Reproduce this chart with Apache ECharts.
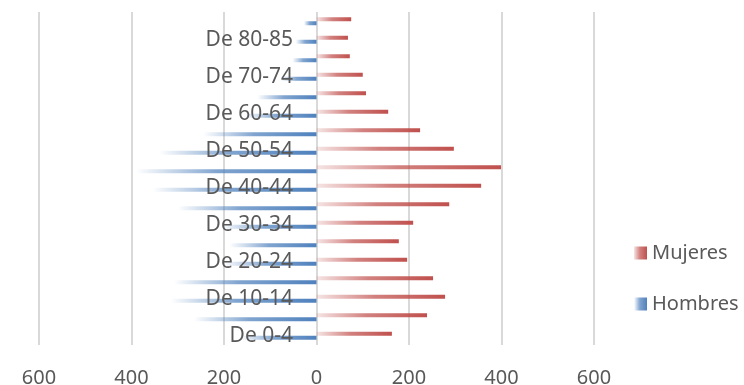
<!DOCTYPE html>
<html>
<head>
<meta charset="utf-8">
<script src="https://cdn.jsdelivr.net/npm/echarts@6/dist/echarts.min.js"></script>
<style>html,body{margin:0;padding:0;background:#fff;}#chart{width:744px;height:385px;}</style>
</head>
<body>
<div id="chart"></div>
<script>
const categories = ['De 0-4','De 5-9','De 10-14','De 15-19','De 20-24','De 25-29','De 30-34','De 35-39','De 40-44','De 45-49','De 50-54','De 55-59','De 60-64','De 65-69','De 70-74','De 75-79','De 80-85','Más de 85'];
const mujeres = [163, 239, 278, 252, 196, 178, 209, 287, 356, 399, 297, 224, 155, 107, 100, 72, 68, 75];
const hombres = [165, 265, 315, 308, 200, 188, 205, 300, 355, 390, 340, 245, 155, 128, 78, 52, 45, 27];
const xTicks = { min: -600, max: 600, interval: 200 };

const FONT = '"Noto Sans", "Open Sans", sans-serif';
const chart = echarts.init(document.getElementById('chart'), null, { renderer: 'canvas' });
chart.setOption({
  animation: false,
  backgroundColor: '#ffffff',
  textStyle: { fontFamily: FONT },
  grid: { left: 39, top: 12, width: 555, height: 333, containLabel: false, outerBoundsMode: 'none' },
  legend: {
    orient: 'vertical', left: 629, top: 238,
    itemWidth: 13, itemHeight: 13, itemGap: 31, icon: 'rect',
    textStyle: { color: '#595959', fontSize: 20, fontFamily: FONT },
    data: ['Mujeres', 'Hombres']
  },
  xAxis: {
    type: 'value', min: xTicks.min, max: xTicks.max, interval: xTicks.interval,
    axisLine: { show: false }, axisTick: { show: false },
    splitLine: { show: true, lineStyle: { color: '#d9d9d9', width: 2 } },
    axisLabel: { color: '#595959', fontSize: 20, margin: 23, fontFamily: FONT, formatter: v => String(Math.abs(v)) }
  },
  yAxis: {
    type: 'category', data: categories, position: 'left',
    axisLine: { show: false, onZero: false },
    axisTick: { show: false },
    splitLine: { show: false },
    z: 10,
    axisLabel: { interval: 1, color: '#595959', fontSize: 21, margin: -254, align: 'right', fontFamily: FONT }
  },
  series: [
    {
      name: 'Mujeres', type: 'bar', data: mujeres, barWidth: 4, barGap: '0%',
      itemStyle: { color: new echarts.graphic.LinearGradient(0, 0, 1, 0, [
        { offset: 0, color: 'rgba(192,80,77,0.15)' },
        { offset: 0.45, color: 'rgba(192,80,77,0.72)' },
        { offset: 1, color: 'rgba(192,80,77,1)' }
      ]) }
    },
    {
      name: 'Hombres', type: 'bar', data: hombres.map(v => -v), barWidth: 4, barGap: '0%',
      itemStyle: { color: new echarts.graphic.LinearGradient(0, 0, 1, 0, [
        { offset: 0, color: 'rgba(79,129,189,0)' },
        { offset: 0.45, color: 'rgba(79,129,189,0.72)' },
        { offset: 1, color: 'rgba(79,129,189,1)' }
      ]) }
    }
  ]
});
</script>
</body>
</html>
